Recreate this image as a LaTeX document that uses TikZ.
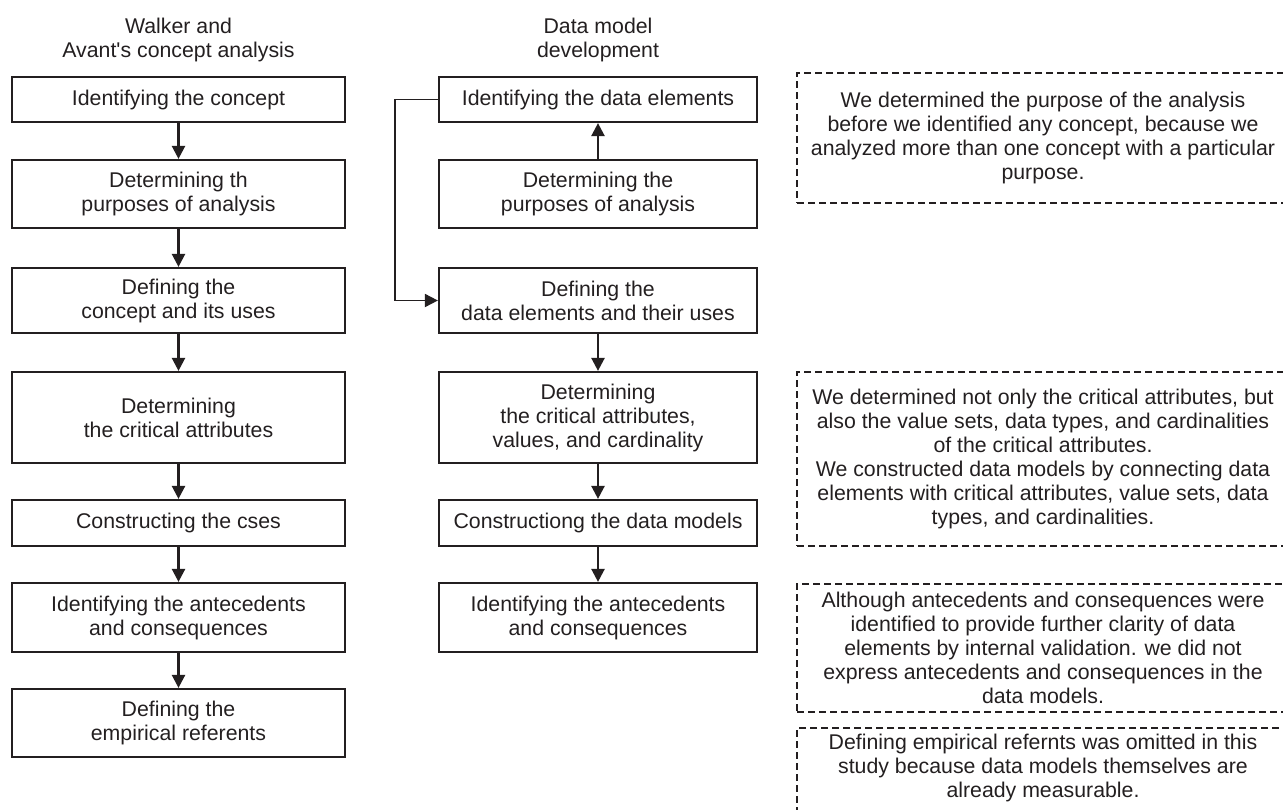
\documentclass[tikz,border=0pt]{standalone}
\usepackage{fontspec}
\setmainfont{Liberation Sans}
\usetikzlibrary{arrows.meta}
\usetikzlibrary{positioning}
\definecolor{ink}{HTML}{231F20}

\tikzset{
  txt/.style={text=ink,align=center,inner sep=0pt,font=\fontsize{21.3}{24}\selectfont},
  stepbox/.style={txt,draw=ink,line width=2.2pt},
  lbox/.style={stepbox,minimum width=333pt},
  mbox/.style={stepbox,minimum width=318pt},
  notebox/.style={txt,draw=ink,line width=1.6pt,dash pattern=on 7pt off 4pt,minimum width=492pt},
  flow/.style={draw=ink,line width=2.4pt,-{Triangle[length=13pt,width=13pt]}}
}

\begin{document}
\begin{tikzpicture}[x=1pt,y=-1pt]
     \clip (0,0) rectangle (1283,809);

     %左列
     \node[txt] (wtitle) at (178.5,40) {Walker and\\Avant\textquotesingle s concept analysis};
     \node[lbox,minimum height=45pt] (w1) at (178.5,99.5) {Identifying the concept};
     \node[lbox,minimum height=68pt] (w2) at (178.5,194) {Determining th\\purposes of analysis};
     \node[lbox,minimum height=65pt] (w3) at (178.5,300.5) {Defining the\\concept and its uses};
     \node[lbox,minimum height=91pt] (w4) at (178.5,417.5) {Determining\\the critical attributes};
     \node[lbox,minimum height=46pt] (w5) at (178.5,523) {Constructing the cses};
     \node[lbox,minimum height=69pt] (w6) at (178.5,617.5) {Identifying the antecedents\\and consequences};
     \node[lbox,minimum height=68pt] (w7) at (178.5,723) {Defining the\\empirical referents};
     \foreach \a/\b in {w1/w2,w2/w3,w3/w4,w4/w5,w5/w6,w6/w7}  {
     	\draw[flow] (\a.south) -- (\b.north);
     }

     %中列
     \node[txt] (mtitle) at (598,40) {Data model\\development};
     \node[mbox,minimum height=45pt] (m1) at (598,99.5) {Identifying the data elements};
     \node[mbox,minimum height=68pt] (m2) at (598,194) {Determining the\\purposes of analysis};
     \node[mbox,minimum height=65pt] (m3) at (598,300.5) {Defining the\\data elements and their uses};
     \node[mbox,minimum height=91pt] (m4) at (598,417.5) {Determining\\the critical attributes,\\values, and cardinality};
     \node[mbox,minimum height=46pt] (m5) at (598,523) {Constructiong the data models};
     \node[mbox,minimum height=69pt] (m6) at (598,617.5) {Identifying the antecedents\\and consequences};
     \draw[flow] (m2.north) -- (m1.south);
     \draw[flow,line width=1.8pt] (m1.west) -- ++(-43,0) |- (m3.west);
     \foreach \a/\b in {m3/m4,m4/m5,m5/m6}  {
     	\draw[flow] (\a.south) -- (\b.north);
     }

     %右列
     \node[notebox,minimum height=130pt] (n1) at (1043,138) {We determined the purpose of the analysis\\before we identified any concept, because we\\analyzed more than one concept with a particular\\purpose.};
     \node[notebox,minimum height=174pt] (n2) at (1043,459) {We determined not only the critical attributes, but\\also the value sets, data types, and cardinalities\\of the critical attributes.\\We constructed data models by connecting data\\elements with critical attributes, value sets, data\\types, and cardinalities.};
     \node[notebox,minimum height=128pt] (n3) at (1043,648) {Although antecedents and consequences were\\identified to provide further clarity of data\\elements by internal validation. we did not\\express antecedents and consequences in the\\data models.};
     \node[txt] (n4) at (1043,768) {Defining empirical refernts was omitted in this\\study because data models themselves are\\already measurable.};
     \draw[ink,line width=1.6pt,dash pattern=on 7pt off 4pt] (1290,728) -| (797,815);

\end{tikzpicture}
\end{document}
